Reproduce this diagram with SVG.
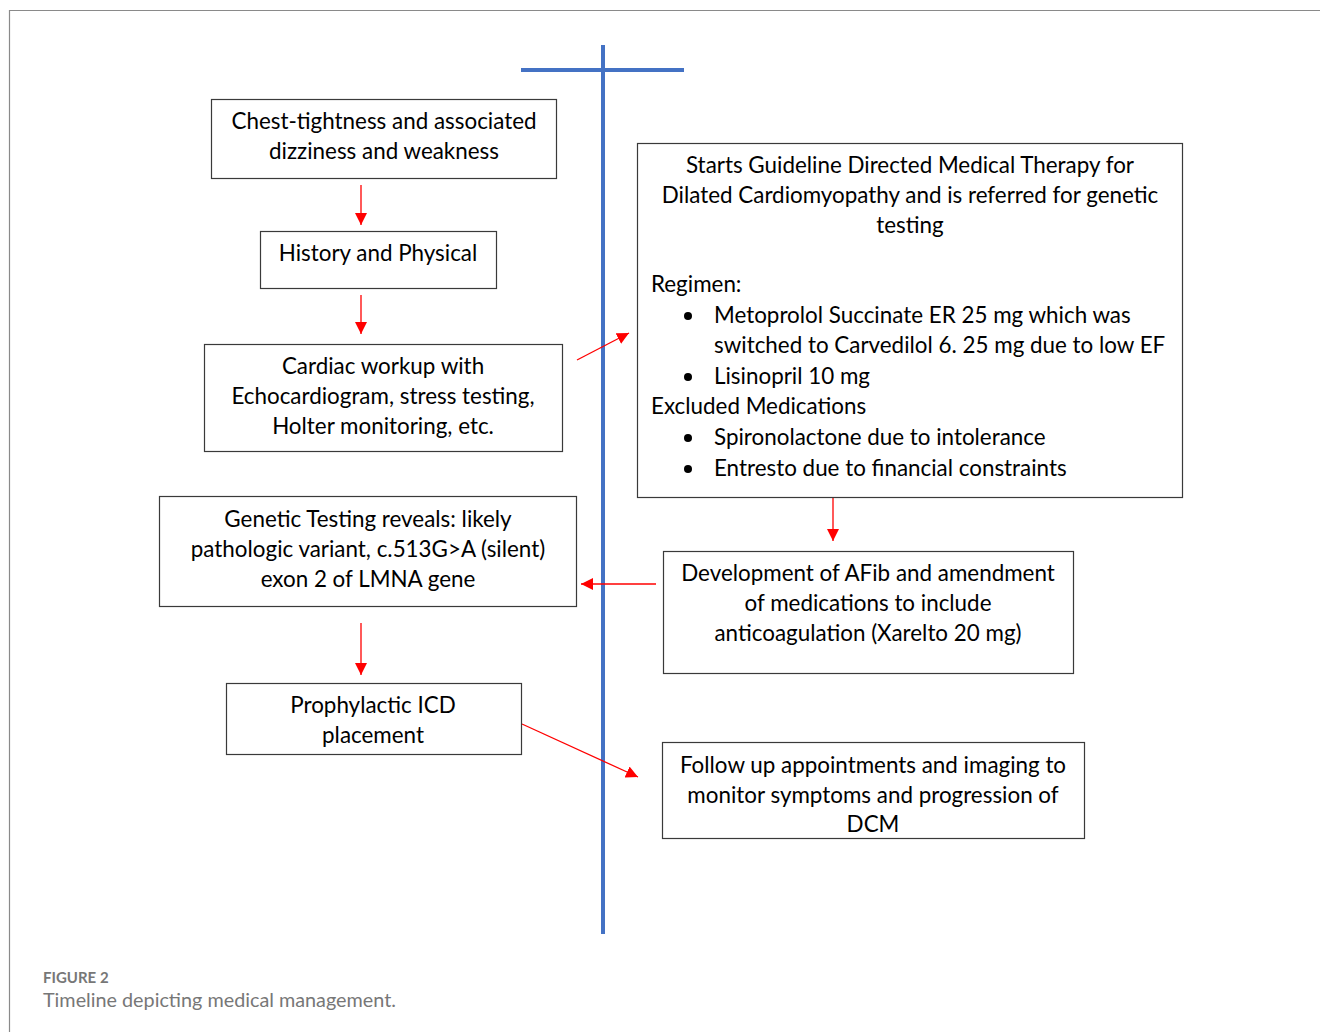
<svg xmlns="http://www.w3.org/2000/svg" width="1320" height="1032" viewBox="0 0 1320 1032">
<defs>
<style>
.box{fill:#fff;stroke:#3a3a3a;stroke-width:1.2}
.t{font-family:Lato,"Open Sans","Liberation Sans",sans-serif;font-size:22.4px;fill:#000}
.c{text-anchor:middle}
.arr{stroke:#ff0000;stroke-width:1.3;fill:none;marker-end:url(#ah)}
.tl{stroke:#4472c4;stroke-width:4;fill:none}
.cap{font-family:Lato,"Open Sans","Liberation Sans",sans-serif;fill:#777}
</style>
<marker id="ah" markerUnits="userSpaceOnUse" markerWidth="12" markerHeight="12" viewBox="0 0 12 12" refX="12" refY="6" orient="auto">
<path d="M0,0 L12,6 L0,12 Z" fill="#ff0000"/>
</marker>
</defs>
<rect width="1320" height="1032" fill="#fff"/>
<path d="M9.5,1032 V10.5 H1320" fill="none" stroke="#8a8a8a" stroke-width="1.2"/>
<g id="timeline">
<line class="tl" x1="603" y1="45" x2="603" y2="934"/>
<line class="tl" x1="521" y1="70" x2="684" y2="70"/>
</g>
<g id="connectors">
<line class="arr" x1="361" y1="185" x2="361" y2="225"/>
<line class="arr" x1="361" y1="295" x2="361" y2="334"/>
<line class="arr" x1="577" y1="360" x2="629" y2="333"/>
<line class="arr" x1="833" y1="498" x2="833" y2="541"/>
<line class="arr" x1="656" y1="584" x2="581" y2="584"/>
<line class="arr" x1="361" y1="623" x2="361" y2="675"/>
<line class="arr" x1="522" y1="724" x2="638" y2="777"/>
</g>
<g id="n1">
<rect class="box" x="211.5" y="99.5" width="345" height="79"/>
<text class="t c" x="384" y="129">Chest-tightness and associated</text>
<text class="t c" x="384" y="159">dizziness and weakness</text>
</g>
<g id="n2">
<rect class="box" x="260.5" y="231.5" width="236" height="57"/>
<text class="t c" x="378" y="261">History and Physical</text>
</g>
<g id="n3">
<rect class="box" x="204.5" y="344.5" width="358" height="107"/>
<text class="t c" x="383" y="374">Cardiac workup with</text>
<text class="t c" x="383" y="404">Echocardiogram, stress testing,</text>
<text class="t c" x="383" y="434">Holter monitoring, etc.</text>
</g>
<g id="n4">
<rect class="box" x="159.5" y="496.5" width="417" height="110"/>
<text class="t c" x="368" y="527">Genetic Testing reveals: likely</text>
<text class="t c" x="368" y="557">pathologic variant, c.513G&gt;A (silent)</text>
<text class="t c" x="368" y="587">exon 2 of LMNA gene</text>
</g>
<g id="n5">
<rect class="box" x="226.5" y="683.5" width="295" height="71"/>
<text class="t c" x="373" y="713">Prophylactic ICD</text>
<text class="t c" x="373" y="743">placement</text>
</g>
<g id="n6">
<rect class="box" x="637.5" y="143.5" width="545" height="354"/>
<text class="t c" x="910" y="173">Starts Guideline Directed Medical Therapy for</text>
<text class="t c" x="910" y="203">Dilated Cardiomyopathy and is referred for genetic</text>
<text class="t c" x="910" y="233">testing</text>
<text class="t" x="651" y="292">Regimen:</text>
<circle cx="688" cy="316" r="4"/>
<text class="t" x="714" y="323">Metoprolol Succinate ER 25 mg which was</text>
<text class="t" x="714" y="353">switched to Carvedilol 6. 25 mg due to low EF</text>
<circle cx="688" cy="377" r="4"/>
<text class="t" x="714" y="384">Lisinopril 10 mg</text>
<text class="t" x="651" y="414">Excluded Medications</text>
<circle cx="688" cy="438" r="4"/>
<text class="t" x="714" y="445">Spironolactone due to intolerance</text>
<circle cx="688" cy="469" r="4"/>
<text class="t" x="714" y="476">Entresto due to financial constraints</text>
</g>
<g id="n7">
<rect class="box" x="663.5" y="551.5" width="410" height="122"/>
<text class="t c" x="868" y="581">Development of AFib and amendment</text>
<text class="t c" x="868" y="611">of medications to include</text>
<text class="t c" x="868" y="641">anticoagulation (Xarelto 20 mg)</text>
</g>
<g id="n8">
<rect class="box" x="662.5" y="742.5" width="422" height="96"/>
<text class="t c" x="873" y="773">Follow up appointments and imaging to</text>
<text class="t c" x="873" y="803">monitor symptoms and progression of</text>
<text class="t c" x="873" y="832">DCM</text>
</g>
<g id="caption">
<text class="cap" x="43" y="983" font-size="15" font-weight="bold">FIGURE 2</text>
<text class="cap" x="43" y="1007" font-size="19.8">Timeline depicting medical management.</text>
</g>
</svg>
